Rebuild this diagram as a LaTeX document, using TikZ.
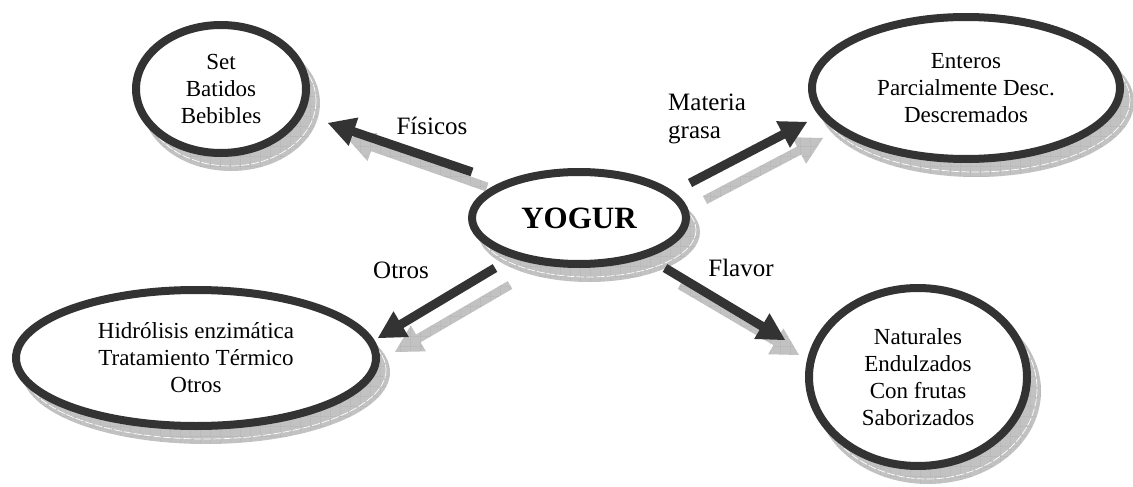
\documentclass[tikz,border=0pt]{standalone}
\usepackage{fontspec}
\setmainfont{Liberation Serif}
\usetikzlibrary{calc,shapes.geometric,patterns}

\definecolor{inkdark}{HTML}{333333}
\definecolor{shadowgray}{HTML}{C2C2C2}
\definecolor{gridgray}{HTML}{8A8A8A}

% square grid used inside the drop shadows
\pgfdeclarepatternformonly{bigrid}{\pgfpointorigin}{\pgfpoint{10pt}{10pt}}{\pgfpoint{10pt}{10pt}}{%
  \pgfsetlinewidth{0.5pt}%
  \pgfpathmoveto{\pgfpointorigin}\pgfpathlineto{\pgfpoint{10pt}{0pt}}%
  \pgfpathmoveto{\pgfpointorigin}\pgfpathlineto{\pgfpoint{0pt}{10pt}}%
  \pgfusepath{stroke}}

% block arrow as a filled polygon: #1 style, #2 tail, #3 tip
\newcommand\blockarrow[3]{%
  \coordinate (hb) at ($(#3)!27pt!(#2)$);
  \path[#1] ($(#2)!4.5pt!90:(#3)$) -- ($(hb)!4.5pt!90:(#3)$) -- ($(hb)!15pt!90:(#3)$)
    -- (#3) -- ($(hb)!15pt!-90:(#3)$) -- ($(hb)!4.5pt!-90:(#3)$) -- ($(#2)!4.5pt!-90:(#3)$) -- cycle;}

% drop shadow of an ellipse: #1 centre, #2 x radius, #3 y radius
\newcommand\ovalshadow[3]{%
  \fill[hatchshadow] ($(#1)+(10,14)$) ellipse [x radius=#2, y radius=#3];
  \draw[white, line width=0.7pt, dash pattern=on 8pt off 2pt]
    ($(#1)+(9,12)$) ellipse [x radius=#2-3, y radius=#3-3];}

\tikzset{
  hatchshadow/.style={fill=shadowgray, postaction={pattern=bigrid, pattern color=gridgray}},
  oval/.style={ellipse, draw=inkdark, line width=8pt, fill=white, inner sep=0pt,
    align=center, font=\fontsize{23}{27}\selectfont},
  darkarrow/.style={fill=inkdark},
  lightarrow/.style={hatchshadow},
  tag/.style={font=\fontsize{25}{28}\selectfont, inner sep=0pt}
}

\begin{document}
\begin{tikzpicture}[x=1pt, y=-1pt]
\useasboundingbox (0,0) rectangle (1133,487);

% centres of the ovals
\coordinate (cset) at (221,89);
\coordinate (cent) at (966,88);
\coordinate (cyog) at (579,218);
\coordinate (chid) at (196,358);
\coordinate (cnat) at (918,377);

% shadows
\ovalshadow{cset}{89}{68}
\ovalshadow{cent}{158}{75}
\ovalshadow{cyog}{111}{50}
\ovalshadow{chid}{184}{72}
\ovalshadow{cnat}{113}{93}

% arrow end points
\coordinate (fisT) at (472,172);  \coordinate (fisH) at (328,123);
\coordinate (fisTs) at (487,187); \coordinate (fisHs) at (347,138);
\coordinate (matT) at (690,183);  \coordinate (matH) at (807,122);
\coordinate (matTs) at (705,200); \coordinate (matHs) at (823,138);
\coordinate (otrT) at (495,268);  \coordinate (otrH) at (378,338);
\coordinate (otrTs) at (510,285); \coordinate (otrHs) at (395,352);
\coordinate (flaT) at (665,268);  \coordinate (flaH) at (785,340);
\coordinate (flaTs) at (680,285); \coordinate (flaHs) at (799,355);

% arrow shadows
\blockarrow{lightarrow}{fisTs}{fisHs}
\blockarrow{lightarrow}{matTs}{matHs}
\blockarrow{lightarrow}{otrTs}{otrHs}
\blockarrow{lightarrow}{flaTs}{flaHs}

% ovals
\node[oval, minimum width=170pt, minimum height=128pt] (set) at (cset) {Set\\Batidos\\Bebibles};
\node[oval, minimum width=308pt, minimum height=142pt] (ent) at (cent) {Enteros\\Parcialmente Desc.\\Descremados};
\node[oval, minimum width=214pt, minimum height=92pt, font=\fontsize{31}{34}\selectfont\bfseries] (yog) at (cyog) {YOGUR};
\node[oval, minimum width=360pt, minimum height=136pt] (hid) at (chid) {Hidrólisis enzimática\\Tratamiento Térmico\\Otros};
\node[oval, minimum width=218pt, minimum height=178pt] (nat) at (cnat) {Naturales\\Endulzados\\Con frutas\\Saborizados};

% arrows
\blockarrow{darkarrow}{fisT}{fisH}
\blockarrow{darkarrow}{matT}{matH}
\blockarrow{darkarrow}{otrT}{otrH}
\blockarrow{darkarrow}{flaT}{flaH}

% arrow labels
\node[tag] (lfis) at (432,126) {Físicos};
\node[tag, anchor=west, align=left] (lmat) at (668,119) {Materia\\grasa};
\node[tag] (lotr) at (401,270) {Otros};
\node[tag] (lfla) at (741,268) {Flavor};
\end{tikzpicture}
\end{document}
